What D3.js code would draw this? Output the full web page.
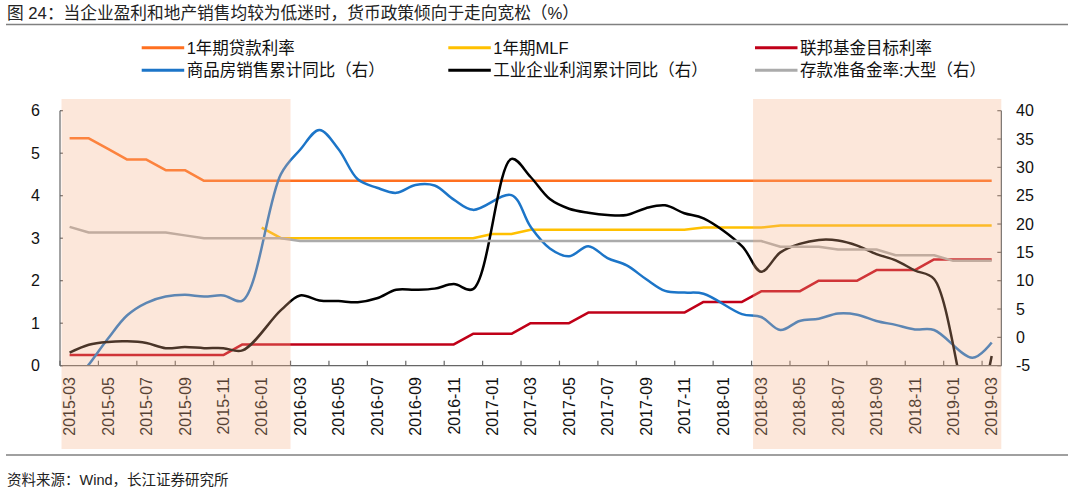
<!DOCTYPE html>
<html>
<head>
<meta charset="utf-8">
<script src="https://cdn.jsdelivr.net/npm/d3@7"></script>
<style>
  body { margin: 0; background: #fff; }
  svg { display: block; font-family: "Liberation Sans", "Noto Sans CJK SC", sans-serif; }
</style>
</head>
<body>
<svg id="chart" width="1080" height="487"></svg>
<script>
// months on the category axis
const months = [
  '2015-03','2015-04','2015-05','2015-06','2015-07','2015-08','2015-09','2015-10','2015-11','2015-12',
  '2016-01','2016-02','2016-03','2016-04','2016-05','2016-06','2016-07','2016-08','2016-09','2016-10','2016-11','2016-12',
  '2017-01','2017-02','2017-03','2017-04','2017-05','2017-06','2017-07','2017-08','2017-09','2017-10','2017-11','2017-12',
  '2018-01','2018-02','2018-03','2018-04','2018-05','2018-06','2018-07','2018-08','2018-09','2018-10','2018-11','2018-12',
  '2019-01','2019-02','2019-03'
];

// left axis series (%)
const loanRate = [5.35,5.35,5.1,4.85,4.85,4.6,4.6,4.35,4.35,4.35,
  4.35,4.35,4.35,4.35,4.35,4.35,4.35,4.35,4.35,4.35,4.35,4.35,
  4.35,4.35,4.35,4.35,4.35,4.35,4.35,4.35,4.35,4.35,4.35,4.35,
  4.35,4.35,4.35,4.35,4.35,4.35,4.35,4.35,4.35,4.35,4.35,4.35,
  4.35,4.35,4.35];
const mlfRate = [null,null,null,null,null,null,null,null,null,null,
  3.25,3.0,3.0,3.0,3.0,3.0,3.0,3.0,3.0,3.0,3.0,3.0,
  3.1,3.1,3.2,3.2,3.2,3.2,3.2,3.2,3.2,3.2,3.2,3.25,
  3.25,3.25,3.25,3.3,3.3,3.3,3.3,3.3,3.3,3.3,3.3,3.3,
  3.3,3.3,3.3];
const fedRate = [0.25,0.25,0.25,0.25,0.25,0.25,0.25,0.25,0.25,0.5,
  0.5,0.5,0.5,0.5,0.5,0.5,0.5,0.5,0.5,0.5,0.5,0.75,
  0.75,0.75,1.0,1.0,1.0,1.25,1.25,1.25,1.25,1.25,1.25,1.5,
  1.5,1.5,1.75,1.75,1.75,2.0,2.0,2.0,2.25,2.25,2.25,2.5,
  2.5,2.5,2.5];

// right axis series (%)
const housingSales = [-9.2,-4.8,-0.2,3.9,6.1,7.2,7.5,7.2,7.4,6.5,
  null,28.8,33.1,36.6,33.2,27.9,26.4,25.5,26.9,26.8,24.3,22.5,
  null,25.1,19.5,15.7,14.3,16.1,14.0,12.7,10.3,8.2,7.9,7.7,
  null,4.1,3.6,1.3,2.9,3.3,4.2,4.0,2.9,2.2,1.4,1.3,
  null,-3.6,-0.9];
const industrialProfit = [-2.7,-1.3,-0.8,-0.7,-1.0,-1.9,-1.7,-1.9,-1.9,-2.3,
  null,4.8,7.4,6.5,6.4,6.2,6.9,8.4,8.4,8.6,9.4,8.5,
  null,31.5,28.3,24.4,22.7,22.0,21.6,21.6,22.8,23.3,21.9,21.0,
  null,16.1,11.6,15.0,16.5,17.2,17.1,16.2,14.7,13.6,11.8,10.3,
  null,-14.0,-3.3];
const reserveRatio = [19.5,18.5,18.5,18.5,18.5,18.5,18.0,17.5,17.5,17.5,
  17.5,17.5,17.0,17.0,17.0,17.0,17.0,17.0,17.0,17.0,17.0,17.0,
  17.0,17.0,17.0,17.0,17.0,17.0,17.0,17.0,17.0,17.0,17.0,17.0,
  17.0,17.0,17.0,16.0,16.0,16.0,15.5,15.5,15.5,14.5,14.5,14.5,
  13.5,13.5,13.5];

const leftTicks = [0, 1, 2, 3, 4, 5, 6];
const rightTicks = [-5, 0, 5, 10, 15, 20, 25, 30, 35, 40];
const shadeSpans = [['2015-03', '2016-02'], ['2018-03', '2019-03']];

const titleText = '图 24：当企业盈利和地产销售均较为低迷时，货币政策倾向于走向宽松（%）';
const sourceText = '资料来源：Wind，长江证券研究所';

const series = [
  { name: '1年期贷款利率', values: loanRate, color: '#FF7020', axis: 'left', smooth: false },
  { name: '1年期MLF', values: mlfRate, color: '#FFC000', axis: 'left', smooth: false },
  { name: '联邦基金目标利率', values: fedRate, color: '#C00018', axis: 'left', smooth: false },
  { name: '商品房销售累计同比（右）', values: housingSales, color: '#1C75C8', axis: 'right', smooth: true },
  { name: '工业企业利润累计同比（右）', values: industrialProfit, color: '#000000', axis: 'right', smooth: true },
  { name: '存款准备金率:大型（右）', values: reserveRatio, color: '#ABABAB', axis: 'right', smooth: false }
];

const svg = d3.select('#chart');
const plotLeft = 60, plotRight = 1001.3, plotBottom = 365.7, plotTop = 110.7;

const x = d3.scaleBand().domain(months).range([plotLeft, plotRight]).padding(0);
const cx = m => x(m) + x.bandwidth() / 2;
const yL = d3.scaleLinear().domain([0, 6]).range([plotBottom, plotTop]);
const yR = d3.scaleLinear().domain([-5, 40]).range([plotBottom, plotTop]);

// title + rules
svg.append('text').attr('x', 7).attr('y', 18.5)
  .attr('font-size', 16.7).attr('fill', '#222').text(titleText);
svg.append('line').attr('x1', 6).attr('x2', 1068).attr('y1', 24.5).attr('y2', 24.5)
  .attr('stroke', '#808080').attr('stroke-width', 1.5);
svg.append('line').attr('x1', 6).attr('x2', 1068).attr('y1', 455).attr('y2', 455)
  .attr('stroke', '#808080').attr('stroke-width', 1.5);
svg.append('text').attr('x', 7).attr('y', 485)
  .attr('font-size', 14.5).attr('fill', '#222').text(sourceText);

// legend
const legX = [141.7, 448.3, 755];
const legY = [47.7, 70.3];
const leg = svg.append('g');
series.forEach((s, i) => {
  const gx = legX[i % 3], gy = legY[Math.floor(i / 3)];
  leg.append('line').attr('x1', gx).attr('x2', gx + 42.5).attr('y1', gy).attr('y2', gy)
    .attr('stroke', s.color).attr('stroke-width', 3);
  leg.append('text').attr('x', gx + 45).attr('y', gy).attr('dy', '0.36em')
    .attr('font-size', 16.5).attr('fill', '#111').text(s.name);
});

// clip for the lines
svg.append('defs').append('clipPath').attr('id', 'plot')
  .append('rect').attr('x', plotLeft).attr('y', 96)
  .attr('width', plotRight - plotLeft).attr('height', plotBottom - 96);

const lines = svg.append('g').attr('clip-path', 'url(#plot)');
series.forEach(s => {
  const yy = s.axis === 'left' ? yL : yR;
  const pts = months.map((m, i) => [cx(m), s.values[i]])
    .filter(d => d[1] != null)
    .map(d => [d[0], yy(d[1])]);
  const gen = d3.line().curve(s.smooth ? d3.curveCatmullRom : d3.curveLinear);
  lines.append('path').attr('d', gen(pts))
    .attr('fill', 'none').attr('stroke', s.color).attr('stroke-width', 2.5)
    .attr('stroke-linejoin', 'round');
});

// axes
const axisColor = '#666';
const ax = svg.append('g').attr('stroke', axisColor).attr('stroke-width', 1.2);
ax.append('line').attr('x1', plotLeft).attr('x2', plotRight).attr('y1', plotBottom).attr('y2', plotBottom);
ax.append('line').attr('x1', plotLeft).attr('x2', plotLeft).attr('y1', plotTop).attr('y2', plotBottom);
ax.append('line').attr('x1', plotRight).attr('x2', plotRight).attr('y1', plotTop).attr('y2', plotBottom);
leftTicks.forEach(t => ax.append('line').attr('x1', plotLeft).attr('x2', plotLeft + 3)
  .attr('y1', yL(t)).attr('y2', yL(t)));
rightTicks.forEach(t => ax.append('line').attr('x1', plotRight - 4).attr('x2', plotRight)
  .attr('y1', yR(t)).attr('y2', yR(t)));
months.forEach((m, i) => {
  if (i % 2 === 0) ax.append('line').attr('x1', x(m)).attr('x2', x(m))
    .attr('y1', plotBottom - 5).attr('y2', plotBottom);
});

const labels = svg.append('g').attr('font-size', 16).attr('fill', '#111');
leftTicks.forEach(t => labels.append('text').attr('x', 40).attr('y', yL(t)).attr('dy', '0.36em')
  .attr('text-anchor', 'end').text(t));
rightTicks.forEach(t => labels.append('text').attr('x', 1016).attr('y', yR(t)).attr('dy', '0.36em')
  .text(t));
months.forEach((m, i) => {
  if (i % 2 !== 0) return;
  labels.append('text')
    .attr('transform', `translate(${cx(m)},377) rotate(-90)`)
    .attr('text-anchor', 'end').attr('dy', '0.36em').text(m);
});

// shaded periods sit over everything like a translucent box
shadeSpans.forEach(([a, b]) => {
  svg.append('rect').attr('x', x(a) + 1.5).attr('y', 99)
    .attr('width', x(b) + x.bandwidth() - x(a) - 1.5).attr('height', 449 - 99)
    .attr('fill', '#F4B183').attr('opacity', 0.3);
});
</script>
</body>
</html>
